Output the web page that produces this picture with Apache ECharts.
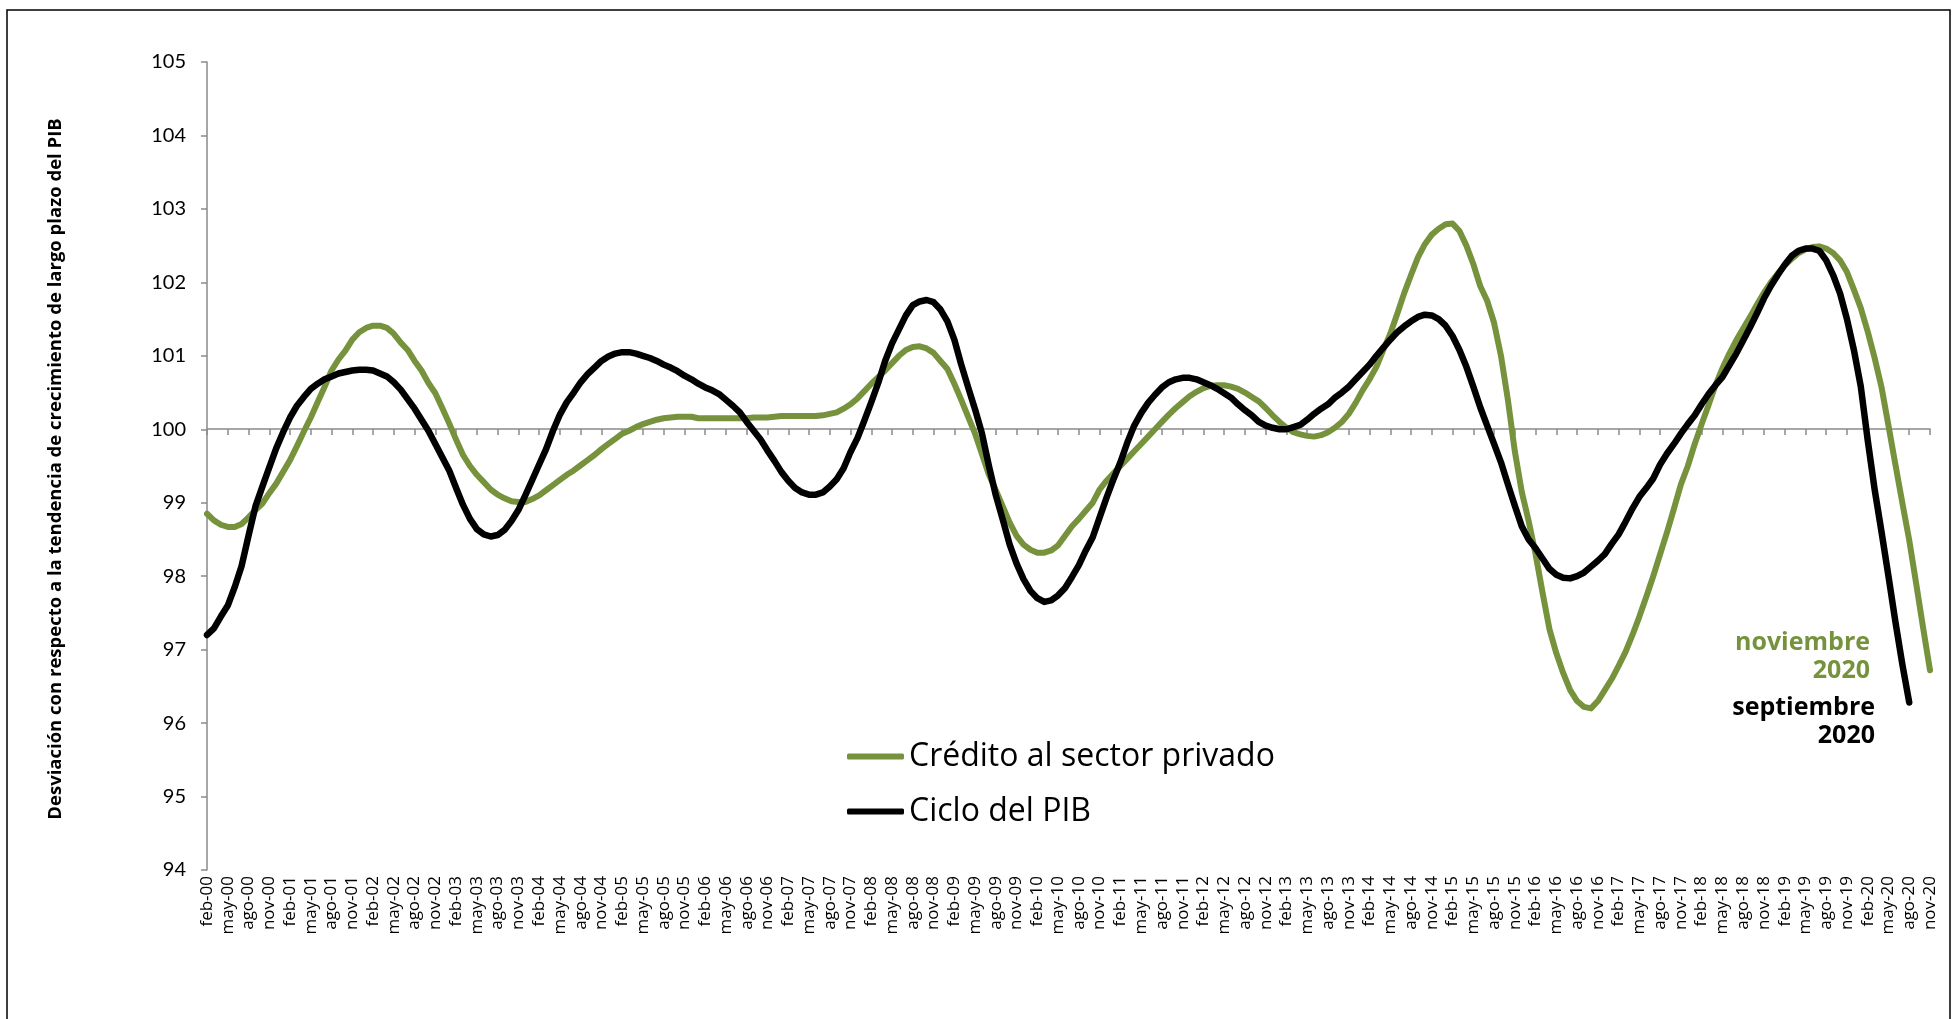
<!DOCTYPE html>
<html>
<head>
<meta charset="utf-8">
<script src="https://cdn.jsdelivr.net/npm/echarts@6/dist/echarts.min.js"></script>
<style>
html,body{margin:0;padding:0;background:#fff;}
#chart{width:1957px;height:1019px;}
</style>
</head>
<body>
<div id="chart"></div>
<script>
// ---- Data ----
const monthAbbr = ['ene','feb','mar','abr','may','jun','jul','ago','sep','oct','nov','dic'];
const startYear = 2000, startMonth = 1, monthCount = 250; // feb-00 .. nov-20
const categories = [];
for (let k = 0; k < monthCount; k++) {
  const m = (startMonth + k) % 12;
  const y = startYear + Math.floor((startMonth + k) / 12);
  categories.push(monthAbbr[m] + '-' + String(y % 100).padStart(2, '0'));
}

const yTicks = [94, 95, 96, 97, 98, 99, 100, 101, 102, 103, 104, 105];

const creditoPrivado = [
  98.85, 98.76, 98.70, 98.67, 98.67, 98.71, 98.80, 98.90, 98.99, 99.13,
  99.26, 99.42, 99.58, 99.77, 99.97, 100.16, 100.37, 100.58, 100.80, 100.95,
  101.07, 101.22, 101.32, 101.38, 101.41, 101.41, 101.38, 101.30, 101.18, 101.08,
  100.93, 100.80, 100.63, 100.49, 100.29, 100.08, 99.86, 99.65, 99.50, 99.38,
  99.28, 99.18, 99.11, 99.06, 99.02, 99.01, 99.01, 99.05, 99.10, 99.17,
  99.24, 99.31, 99.38, 99.44, 99.51, 99.58, 99.65, 99.73, 99.80, 99.87,
  99.94, 99.98, 100.03, 100.07, 100.10, 100.13, 100.15, 100.16, 100.17, 100.17,
  100.17, 100.15, 100.15, 100.15, 100.15, 100.15, 100.15, 100.15, 100.15, 100.16,
  100.16, 100.16, 100.17, 100.18, 100.18, 100.18, 100.18, 100.18, 100.18, 100.19,
  100.21, 100.23, 100.28, 100.34, 100.42, 100.52, 100.62, 100.71, 100.80, 100.90,
  101.00, 101.08, 101.12, 101.13, 101.10, 101.04, 100.93, 100.82, 100.62, 100.40,
  100.17, 99.94, 99.66, 99.38, 99.17, 98.95, 98.73, 98.55, 98.43, 98.36,
  98.32, 98.32, 98.35, 98.42, 98.55, 98.68, 98.78, 98.89, 99.00, 99.18,
  99.30, 99.40, 99.50, 99.60, 99.70, 99.80, 99.90, 100.00, 100.10, 100.20,
  100.29, 100.37, 100.45, 100.51, 100.56, 100.59, 100.60, 100.60, 100.58, 100.55,
  100.50, 100.44, 100.38, 100.29, 100.19, 100.10, 100.02, 99.96, 99.93, 99.91,
  99.90, 99.92, 99.96, 100.02, 100.10, 100.21, 100.36, 100.53, 100.68, 100.85,
  101.08, 101.30, 101.57, 101.85, 102.10, 102.34, 102.52, 102.65, 102.73, 102.79,
  102.80, 102.70, 102.50, 102.25, 101.95, 101.75, 101.45, 101.00, 100.40, 99.70,
  99.15, 98.75, 98.30, 97.78, 97.28, 96.95, 96.68, 96.45, 96.30, 96.22,
  96.20, 96.30, 96.45, 96.60, 96.78, 96.97, 97.20, 97.45, 97.72, 98.00,
  98.30, 98.60, 98.92, 99.25, 99.50, 99.80, 100.07, 100.33, 100.60, 100.83,
  101.03, 101.21, 101.37, 101.53, 101.70, 101.86, 102.00, 102.12, 102.23, 102.32,
  102.40, 102.45, 102.48, 102.49, 102.46, 102.40, 102.30, 102.14, 101.90, 101.65,
  101.33, 100.97, 100.57, 100.05, 99.52, 99.00, 98.49, 97.90, 97.30, 96.72
];

const cicloPIB = [
  97.20, 97.29, 97.45, 97.60, 97.85, 98.14, 98.55, 98.95, 99.22, 99.48,
  99.74, 99.96, 100.16, 100.32, 100.44, 100.55, 100.62, 100.68, 100.72, 100.76,
  100.78, 100.80, 100.81, 100.81, 100.80, 100.76, 100.72, 100.64, 100.54, 100.41,
  100.28, 100.13, 99.98, 99.80, 99.62, 99.44, 99.20, 98.97, 98.78, 98.64,
  98.57, 98.54, 98.56, 98.63, 98.75, 98.90, 99.10, 99.31, 99.52, 99.73,
  99.98, 100.20, 100.37, 100.50, 100.64, 100.75, 100.84, 100.93, 100.99, 101.03,
  101.05, 101.05, 101.03, 101.00, 100.97, 100.93, 100.88, 100.84, 100.79, 100.73,
  100.68, 100.62, 100.57, 100.53, 100.48, 100.40, 100.32, 100.23, 100.10, 99.98,
  99.86, 99.71, 99.57, 99.42, 99.30, 99.20, 99.14, 99.11, 99.11, 99.14,
  99.22, 99.32, 99.47, 99.69, 99.88, 100.12, 100.37, 100.63, 100.93, 101.17,
  101.36, 101.55, 101.69, 101.74, 101.76, 101.73, 101.63, 101.47, 101.22, 100.88,
  100.57, 100.27, 99.94, 99.50, 99.10, 98.77, 98.43, 98.17, 97.96, 97.80,
  97.70, 97.65, 97.67, 97.74, 97.84, 97.99, 98.15, 98.35, 98.53, 98.80,
  99.07, 99.32, 99.55, 99.82, 100.05, 100.22, 100.36, 100.47, 100.57, 100.64,
  100.68, 100.70, 100.70, 100.68, 100.64, 100.60, 100.55, 100.49, 100.43, 100.34,
  100.26, 100.19, 100.10, 100.05, 100.02, 100.00, 100.00, 100.03, 100.06, 100.13,
  100.21, 100.28, 100.34, 100.43, 100.50, 100.58, 100.68, 100.78, 100.88, 101.00,
  101.11, 101.22, 101.32, 101.40, 101.47, 101.53, 101.56, 101.55, 101.50, 101.41,
  101.27, 101.08, 100.85, 100.58, 100.30, 100.05, 99.80, 99.55, 99.25, 98.96,
  98.68, 98.50, 98.38, 98.24, 98.10, 98.02, 97.98, 97.97, 98.00, 98.05,
  98.13, 98.21, 98.30, 98.44, 98.57, 98.74, 98.92, 99.08, 99.20, 99.33,
  99.52, 99.67, 99.80, 99.94, 100.07, 100.19, 100.34, 100.48, 100.60, 100.71,
  100.87, 101.03, 101.21, 101.39, 101.58, 101.78, 101.95, 102.10, 102.24, 102.36,
  102.43, 102.46, 102.46, 102.43, 102.30, 102.10, 101.85, 101.50, 101.08, 100.58,
  99.85, 99.18, 98.60, 98.00, 97.38, 96.80, 96.28
];

const seriesNames = ['Crédito al sector privado', 'Ciclo del PIB'];
const annotations = [['noviembre', '2020'], ['septiembre', '2020']];
const yTitle = 'Desviación con respecto a la tendencia de crecimiento de largo plazo del PIB';

// ---- Chart ----
const GREEN = '#76923C';
const AXIS_GRAY = '#8a8a8a';
const FONT = 'Lato, "Open Sans", sans-serif';
const WIDE = '"Open Sans", Lato, sans-serif';

const chart = echarts.init(document.getElementById('chart'), null, {renderer: 'canvas'});
chart.setOption({
  backgroundColor: '#fff',
  animation: false,
  grid: [
    {left: 207, right: 27, top: 62, bottom: 149, containLabel: false},
    {left: 207, right: 27, top: 428, height: 1, containLabel: false}
  ],
  xAxis: [
    {
      gridIndex: 0, type: 'category', data: categories, boundaryGap: false,
      axisLine: {show: false}, axisTick: {show: false}, splitLine: {show: false},
      axisLabel: {interval: 2, rotate: 90, margin: 6, fontSize: 17, color: '#000', fontFamily: WIDE}
    },
    {
      gridIndex: 1, type: 'category', data: categories, boundaryGap: false,
      axisLine: {show: true, lineStyle: {color: AXIS_GRAY, width: 1.5}},
      axisTick: {show: true, interval: 2, length: 6, lineStyle: {color: AXIS_GRAY, width: 1.5}},
      axisLabel: {show: false}, splitLine: {show: false}
    }
  ],
  yAxis: [
    {
      gridIndex: 0, type: 'value', min: yTicks[0], max: yTicks[yTicks.length - 1], interval: 1,
      axisLine: {show: true, lineStyle: {color: AXIS_GRAY, width: 1.5}},
      axisTick: {show: true, length: 6, lineStyle: {color: AXIS_GRAY, width: 1.5}},
      splitLine: {show: false},
      axisLabel: {margin: 21, fontSize: 20, color: '#000', fontFamily: FONT}
    },
    {gridIndex: 1, type: 'value', min: 0, max: 1, show: false}
  ],
  legend: {
    orient: 'vertical', left: 842, top: 734,
    icon: 'roundRect', itemWidth: 57, itemHeight: 6, itemGap: 20,
    textStyle: {fontSize: 32, color: '#000', fontFamily: WIDE, lineHeight: 35},
    data: seriesNames
  },
  series: [
    {
      name: seriesNames[0], type: 'line', data: creditoPrivado, xAxisIndex: 0, yAxisIndex: 0,
      symbol: 'none', smooth: false,
      lineStyle: {color: GREEN, width: 6, cap: 'round', join: 'round'}, itemStyle: {color: GREEN}
    },
    {
      name: seriesNames[1], type: 'line', data: cicloPIB, xAxisIndex: 0, yAxisIndex: 0,
      symbol: 'none', smooth: false,
      lineStyle: {color: '#000', width: 6.5, cap: 'round', join: 'round'}, itemStyle: {color: '#000'}
    }
  ],
  graphic: [
    {type: 'rect', shape: {x: 7, y: 10, width: 1943, height: 1030}, style: {fill: null, stroke: '#000', lineWidth: 1.5}, silent: true},
    {type: 'text', x: 56, y: 469, rotation: Math.PI / 2,
      style: {text: yTitle, fontSize: 18.5, fontWeight: 'bold', fill: '#000', fontFamily: WIDE, align: 'center', verticalAlign: 'middle'}},
    {type: 'text', x: 1870, y: 643, style: {text: annotations[0][0], fontSize: 25, fontWeight: 'bold', fill: GREEN, fontFamily: WIDE, align: 'right', verticalAlign: 'middle'}},
    {type: 'text', x: 1870, y: 671, style: {text: annotations[0][1], fontSize: 25, fontWeight: 'bold', fill: GREEN, fontFamily: WIDE, align: 'right', verticalAlign: 'middle'}},
    {type: 'text', x: 1875, y: 708, style: {text: annotations[1][0], fontSize: 25, fontWeight: 'bold', fill: '#000', fontFamily: WIDE, align: 'right', verticalAlign: 'middle'}},
    {type: 'text', x: 1875, y: 736, style: {text: annotations[1][1], fontSize: 25, fontWeight: 'bold', fill: '#000', fontFamily: WIDE, align: 'right', verticalAlign: 'middle'}}
  ]
});
</script>
</body>
</html>
